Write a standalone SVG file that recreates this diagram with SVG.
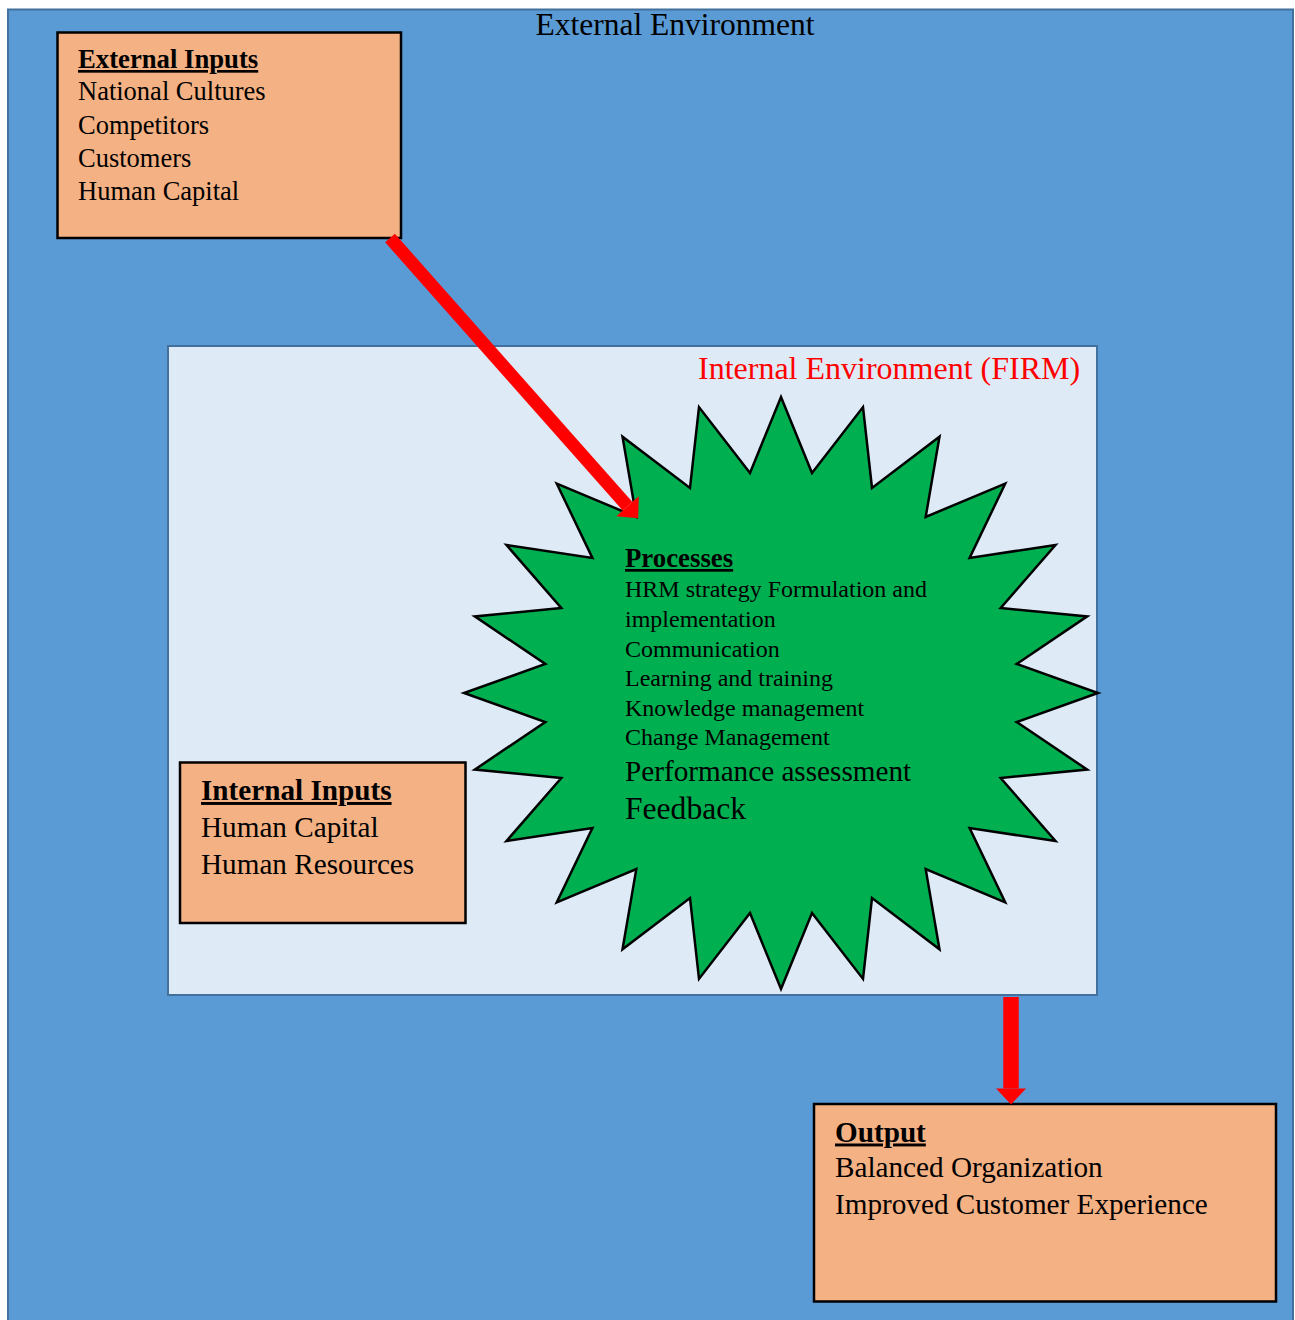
<svg xmlns="http://www.w3.org/2000/svg" width="1295" height="1320" viewBox="0 0 1295 1320">
  <defs>
    <style>
      .serif { font-family: "Liberation Serif", "Times New Roman", serif; fill: #000; }
      .head { font-weight: bold; text-decoration: underline; }
      .box { fill: #f4b183; stroke: #000; stroke-width: 2.5; }
      .flow { stroke: #ff0000; stroke-linecap: butt; fill: none; }
    </style>
    <marker id="redHead" markerUnits="userSpaceOnUse" markerWidth="17" markerHeight="32" refX="0" refY="15" orient="auto" overflow="visible">
      <path d="M0,0 L16,15 L0,30 Z" fill="#ff0000"/>
    </marker>
  </defs>

  <!-- outer environment -->
  <g id="external-environment">
    <rect x="8" y="9.5" width="1285" height="1330" fill="#5b9bd5" stroke="#41719c" stroke-width="2"/>
    <text class="serif" x="675" y="35" font-size="31.5" text-anchor="middle">External Environment</text>
  </g>

  <!-- firm boundary -->
  <g id="internal-environment">
    <rect x="168" y="346" width="929" height="649" fill="#deebf7" stroke="#41719c" stroke-width="2"/>
    <text class="serif" x="698" y="379" font-size="32" style="fill:#ff0000">Internal Environment (FIRM)</text>
  </g>

  <!-- 24-point star holding the processes -->
  <g id="processes">
    <polygon fill="#00b050" stroke="#000" stroke-width="2.5" stroke-linejoin="miter" points="781,397 812,472.9 863,407.1 872,487.9 939.5,436.7 925.7,516.9 1005.2,483.7 969.6,557.9 1055.5,545 1000.7,608 1087.2,616.4 1016.7,664 1098,693 1016.7,722 1087.2,769.6 1000.7,778 1055.5,841 969.6,828.1 1005.2,902.3 925.7,869.1 939.5,949.3 872,898.1 863,978.9 812,913.1 781,989 750,913.1 699,978.9 690,898.1 622.5,949.3 636.3,869.1 556.8,902.3 592.4,828.1 506.5,841 561.3,778 474.8,769.6 545.3,722 464,693 545.3,664 474.8,616.4 561.3,608 506.5,545 592.4,557.9 556.8,483.7 636.3,516.9 622.5,436.7 690,487.9 699,407.1 750,472.9"/>
    <text class="serif head" x="625" y="567" font-size="26.8">Processes</text>
    <g class="serif" font-size="24">
      <text x="625" y="597">HRM strategy Formulation and</text>
      <text x="625" y="626.5">implementation</text>
      <text x="625" y="657">Communication</text>
      <text x="625" y="686">Learning and training</text>
      <text x="625" y="715.5">Knowledge management</text>
      <text x="625" y="745">Change Management</text>
    </g>
    <text class="serif" x="625" y="780.5" font-size="29.2">Performance assessment</text>
    <text class="serif" x="625" y="819" font-size="31.6">Feedback</text>
  </g>

  <!-- input and output boxes -->
  <g id="external-inputs">
    <rect class="box" x="57.5" y="32.5" width="343.5" height="205.5"/>
    <text class="serif head" x="78" y="68" font-size="26.7">External Inputs</text>
    <g class="serif" font-size="26.5">
      <text x="78" y="100">National Cultures</text>
      <text x="78" y="133.5">Competitors</text>
      <text x="78" y="167">Customers</text>
      <text x="78" y="200">Human Capital</text>
    </g>
  </g>

  <g id="internal-inputs">
    <rect class="box" x="180" y="762.5" width="285.5" height="160.5"/>
    <text class="serif head" x="201" y="800" font-size="29.2">Internal Inputs</text>
    <g class="serif" font-size="29.2">
      <text x="201" y="837">Human Capital</text>
      <text x="201" y="874">Human Resources</text>
    </g>
  </g>

  <g id="output">
    <rect class="box" x="814" y="1104" width="462" height="197.5"/>
    <text class="serif head" x="835" y="1141.5" font-size="29.2">Output</text>
    <g class="serif" font-size="29.2">
      <text x="835" y="1177">Balanced Organization</text>
      <text x="835" y="1214">Improved Customer Experience</text>
    </g>
  </g>

  <!-- flow arrows -->
  <g id="connectors">
    <line class="flow" x1="390" y1="238" x2="627.6" y2="506.2" stroke-width="13" marker-end="url(#redHead)"/>
    <line class="flow" x1="1011" y1="997" x2="1011" y2="1088.5" stroke-width="15.5" marker-end="url(#redHead)"/>
  </g>
</svg>
